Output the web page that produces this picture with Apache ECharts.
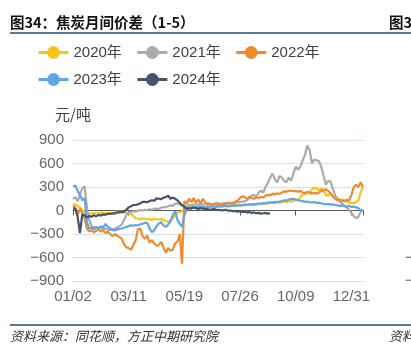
<!DOCTYPE html>
<html>
<head>
<meta charset="utf-8">
<script src="https://cdn.jsdelivr.net/npm/echarts@6/dist/echarts.min.js"></script>
<style>
  html, body { margin: 0; padding: 0; background: #fff; }
  #chart { width: 411px; height: 350px; }
</style>
</head>
<body>
<div id="chart"></div>
<script>
// Coke inter-month spread (Jan-May contract), one line per year, yuan/tonne.
// Each series holds one reading per two trading days along a common day index.
const dayStep = 2;
const tickEvery = 48;
const dayMax = 250;
const tickLabels = ['01/02', '03/11', '05/19', '07/26', '10/09', '12/31'];
const seriesNames = ['2020年', '2021年', '2022年', '2023年', '2024年'];
const seriesColors = ['#f5c518', '#ababab', '#f08a2e', '#62a6e6', '#44546a'];

const spread2020 = [
  80, 75, 60, 40, 10, -20, -40, -45, -35, -40,
  -30, -35, -25, -30, -40, -35, -30, -40, -20, -15,
  -20, -15, -25, -30, -35, -40, -70, -100, -105, -110,
  -100, -105, -115, -110, -120, -105, -110, -115, -110, -120,
  -135, -145, -125, -100, -60, -30, -20, -10, 10, 30,
  40, 35, 45, 40, 50, 45, 40, 50, 45, 55,
  50, 45, 55, 60, 50, 55, 60, 55, 65, 60,
  70, 65, 60, 70, 75, 70, 80, 75, 70, 80,
  85, 80, 90, 85, 90, 95, 100, 95, 105, 100,
  110, 115, 110, 120, 115, 125, 130, 140, 170, 200,
  210, 220, 230, 270, 290, 285, 260, 280, 250, 200,
  190, 210, 180, 160, 150, 130, 140, 130, 110, 100,
  95, 90, 110, 130, 230, 310
];

const spread2021 = [
  150, 170, 120, 200, 280, 310, 40, -120, -200, -210,
  -230, -215, -225, -240, -230, -245, -250, -240, -230, -220,
  -200, -180, -120, -60, -30, -20, -10, -15, 0, 5,
  0, 10, 5, 15, 10, 20, 25, 20, 35, 45,
  40, 55, 65, 60, 85, 90, 80, 60, 50, 60,
  70, 65, 75, 80, 70, 85, 75, 80, 90, 85,
  75, 90, 95, 80, 85, 95, 90, 100, 95, 85,
  100, 110, 105, 115, 120, 130, 160, 190, 200, 170,
  230, 250, 230, 300, 350, 420, 470, 400, 360, 440,
  420, 380, 360, 420, 380, 470, 560, 520, 560, 640,
  710, 830, 770, 600, 650, 640, 630, 560, 440, 330,
  380, 370, 280, 190, 150, 110, 90, 60, 40, 10,
  -30, -70, -100, -80, -20, 10
];

const spread2022 = [
  60, 40, -60, 20, -30, -100, -230, -270, -250, -280,
  -260, -240, -270, -250, -290, -270, -300, -330, -300, -320,
  -340, -360, -430, -470, -480, -500, -440, -380, -240, -230,
  -330, -360, -320, -410, -380, -420, -450, -440, -400, -470,
  -540, -480, -510, -500, -420, -400, -300, -680, 120, 90,
  150, 110, 160, 100, 140, 90, 150, 100, 80, 90,
  70, 80, 75, 90, 70, 80, 85, 95, 90, 100,
  110, 130, 160, 180, 170, 150, 175, 160, 150, 170,
  155, 175, 165, 190, 200, 195, 215, 205, 220, 210,
  230, 245, 240, 250, 255, 245, 250, 240, 250, 230,
  220, 240, 230, 215, 225, 215, 230, 250, 260, 270,
  250, 220, 180, 150, 130, 140, 125, 120, 135, 130,
  200, 300, 330, 300, 360, 300
];

const spread2023 = [
  310, 320, 250, 200, 130, 160, -150, -230, -220, -240,
  -210, -230, -200, -220, -170, -210, -230, -250, -255, -240,
  -235, -230, -220, -210, -200, -190, -195, -185, -190, -175,
  -170, -155, -160, -230, -275, -250, -200, -165, -150, -190,
  -210, -180, -140, -60, -10, -120, -170, -210, -60, 10,
  30, 40, 35, 45, 40, 50, 45, 40, 50, 45,
  55, 50, 45, 55, 50, 60, 55, 60, 55, 65,
  60, 65, 70, 65, 75, 70, 80, 75, 85, 80,
  90, 85, 95, 90, 100, 105, 100, 110, 105, 115,
  120, 130, 125, 140, 145, 150, 140, 130, 125, 120,
  110, 115, 105, 100, 110, 95, 100, 90, 85, 80,
  85, 75, 80, 70, 65, 60, 65, 55, 50, 60,
  45, 50, 40, 30, 0, 10
];

const spread2024 = [
  30, 20, -80, -290, -50, -60, -90, -70, -80, -60,
  -75, -55, -65, -50, -55, -40, -45, -35, -40, -25,
  -25, -20, -15, 10, 40, 55, 70, 70, 80, 90,
  110, 110, 105, 120, 130, 125, 155, 150, 145, 165,
  170, 190, 150, 165, 150, 130, 100, 70, 45, 25,
  30, 25, 40, 30, 20, 30, 25, 15, 20, 10,
  15, 20, 5, 10, 0, 5, 10, -5, 0, -10,
  -5, -15, -10, -20, -15, -25, -20, -30, -25, -35,
  -30, -40, -35, -30, -40, -35
];

const allSpreads = [spread2020, spread2021, spread2022, spread2023, spread2024];

const baseFont = "'Liberation Sans', 'Noto Sans CJK SC', sans-serif";
const cjkFont = "'Noto Sans CJK SC', 'Liberation Sans', sans-serif";
const ruleColor = '#1f4e79';

const chart = echarts.init(document.getElementById('chart'), null, { renderer: 'canvas' });

const legendCommon = {
  left: 37,
  padding: 0,
  itemWidth: 30,
  itemHeight: 16,
  itemGap: 14,
  lineStyle: { width: 3 },
  textStyle: { fontSize: 15, color: '#404040', fontFamily: baseFont },
  selectedMode: false
};

chart.setOption({
  animation: false,
  backgroundColor: '#ffffff',
  color: seriesColors,
  textStyle: { fontFamily: baseFont },
  legend: [
    Object.assign({ top: 45, data: seriesNames.slice(0, 3) }, legendCommon),
    Object.assign({ top: 72, data: seriesNames.slice(3) }, legendCommon)
  ],
  grid: { left: 73, right: 48, top: 140, bottom: 69, containLabel: false },
  xAxis: {
    type: 'value',
    min: 0,
    max: dayMax,
    interval: tickEvery,
    axisLine: { show: true, lineStyle: { color: '#595959', width: 1 } },
    axisTick: { show: true, length: 5, lineStyle: { color: '#595959' } },
    splitLine: { show: false },
    axisLabel: {
      margin: 8,
      fontSize: 15,
      color: '#666666',
      fontFamily: baseFont,
      formatter: function (v) {
        const k = v / tickEvery;
        return Number.isInteger(k) && tickLabels[k] ? tickLabels[k] : '';
      }
    }
  },
  yAxis: {
    type: 'value',
    min: -900,
    max: 900,
    interval: 300,
    name: '元/吨',
    nameLocation: 'end',
    nameGap: 18,
    nameTextStyle: { fontSize: 15, color: '#404040', fontFamily: cjkFont, align: 'center' },
    axisLine: { show: false },
    axisTick: { show: false },
    splitLine: { show: true, lineStyle: { color: '#d8e0ee', width: 1 } },
    axisLabel: {
      margin: 9,
      fontSize: 15,
      color: '#666666',
      fontFamily: baseFont,
      formatter: function (v) { return String(v).replace('-', '\u2212'); }
    }
  },
  series: allSpreads.map(function (vals, s) {
    return {
      name: seriesNames[s],
      type: 'line',
      symbol: 'circle',
      showSymbol: false,
      smooth: false,
      lineStyle: { width: 2.2, color: seriesColors[s] },
      itemStyle: { color: seriesColors[s] },
      emphasis: { disabled: true },
      data: vals.map(function (v, i) { return [i * dayStep, v]; })
    };
  }),
  graphic: [
    { type: 'text', x: 10, y: 22, style: { text: '图34：焦炭月间价差（1-5）', fontSize: 14.5, fontWeight: 'bold', fontFamily: cjkFont, fill: '#111111', verticalAlign: 'middle' } },
    { type: 'text', x: 389, y: 22, style: { text: '图3', fontSize: 14.5, fontWeight: 'bold', fontFamily: cjkFont, fill: '#111111', verticalAlign: 'middle' } },
    { type: 'line', shape: { x1: 10, y1: 33, x2: 411, y2: 33 }, style: { stroke: ruleColor, lineWidth: 1.5 } },
    { type: 'line', shape: { x1: 10, y1: 325, x2: 411, y2: 325 }, style: { stroke: ruleColor, lineWidth: 1.5 } },
    { type: 'text', x: 10, y: 336, style: { text: '资料来源：同花顺，方正中期研究院', fontSize: 13, fontStyle: 'italic', fontFamily: cjkFont, fill: '#333333', verticalAlign: 'middle' } },
    { type: 'text', x: 389, y: 336, style: { text: '资料', fontSize: 13, fontStyle: 'italic', fontFamily: cjkFont, fill: '#333333', verticalAlign: 'middle' } },
    { type: 'text', x: 405, y: 258, style: { text: '\u2212', fontSize: 15, fontFamily: baseFont, fill: '#666666', verticalAlign: 'middle' } },
    { type: 'text', x: 405, y: 281, style: { text: '\u2212', fontSize: 15, fontFamily: baseFont, fill: '#666666', verticalAlign: 'middle' } }
  ]
});
</script>
</body>
</html>
